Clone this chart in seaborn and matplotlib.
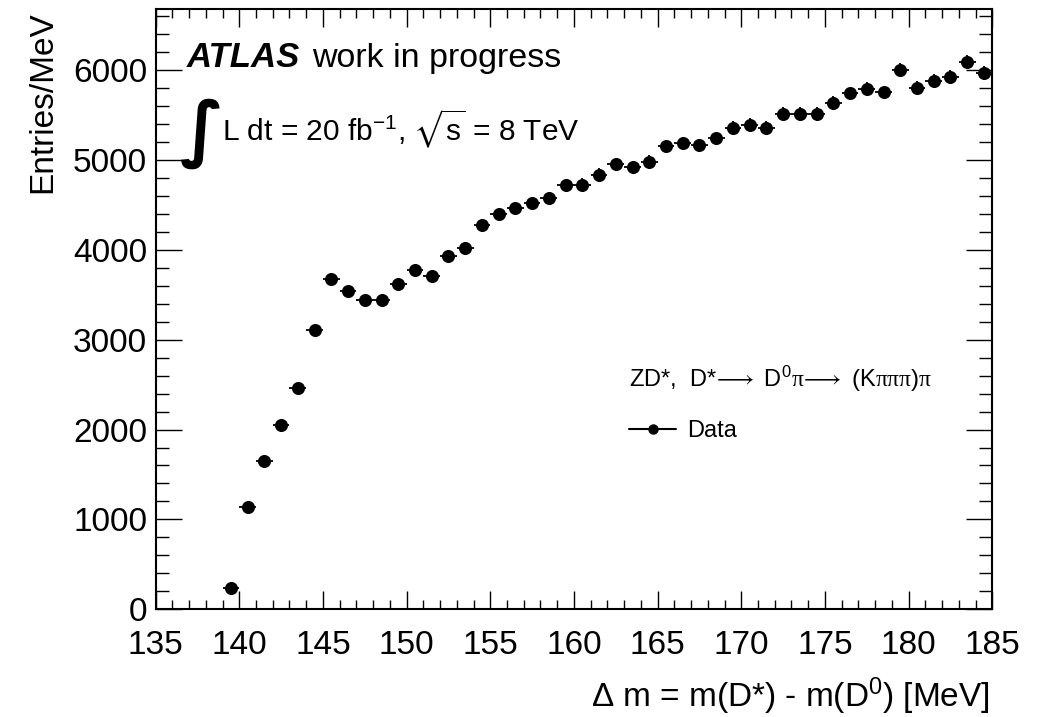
import numpy as np
import pandas as pd
import matplotlib
matplotlib.use("Agg")
import matplotlib.pyplot as plt
from matplotlib.lines import Line2D
from matplotlib.ticker import MultipleLocator
import seaborn as sns

# ---- data ----
bin_centers = [139.5, 140.5, 141.5, 142.5, 143.5, 144.5, 145.5, 146.5, 147.5, 148.5,
               149.5, 150.5, 151.5, 152.5, 153.5, 154.5, 155.5, 156.5, 157.5, 158.5,
               159.5, 160.5, 161.5, 162.5, 163.5, 164.5, 165.5, 166.5, 167.5, 168.5,
               169.5, 170.5, 171.5, 172.5, 173.5, 174.5, 175.5, 176.5, 177.5, 178.5,
               179.5, 180.5, 181.5, 182.5, 183.5, 184.5]
entries = [240, 1140, 1645, 2045, 2465, 3110, 3680, 3540, 3445, 3445,
           3620, 3775, 3705, 3935, 4020, 4280, 4395, 4460, 4515, 4580,
           4715, 4725, 4835, 4950, 4920, 4980, 5150, 5185, 5160, 5240,
           5355, 5390, 5360, 5510, 5510, 5510, 5630, 5740, 5790, 5750,
           6000, 5805, 5880, 5920, 6085, 5965]
bin_half_width = 0.5

x_label = "Δ m = m(D*) - m(D$^{0}$) [MeV]"
y_label = "Entries/MeV"
legend_header = ("ZD*,  D*$\\!\\longrightarrow$ D$^{0}\\mathsf{\\pi}"
                 "\\!\\longrightarrow$ (K$\\mathsf{\\pi\\pi\\pi}$)$\\mathsf{\\pi}$")
legend_entry = "Data"

df = pd.DataFrame({"dm": bin_centers, "n": entries})

# ---- style ----
sns.set_theme(style="ticks")
plt.rcParams["font.family"] = ["Liberation Sans", "DejaVu Sans"]
plt.rcParams["text.color"] = "black"
plt.rcParams["axes.labelcolor"] = "black"
plt.rcParams["xtick.color"] = "black"
plt.rcParams["ytick.color"] = "black"
plt.rcParams["xtick.labelcolor"] = "black"
plt.rcParams["ytick.labelcolor"] = "black"
plt.rcParams["axes.edgecolor"] = "black"
plt.rcParams["mathtext.fontset"] = "custom"
plt.rcParams["mathtext.rm"] = "Liberation Sans"
plt.rcParams["mathtext.it"] = "Liberation Sans:italic"
plt.rcParams["mathtext.bf"] = "Liberation Sans:bold"
plt.rcParams["mathtext.sf"] = "Liberation Serif"
plt.rcParams["mathtext.fallback"] = "stix"

fig = plt.figure(figsize=(10.4, 7.17), dpi=100)
ax = fig.add_axes([155.6 / 1040, 1 - 609.3 / 717, 836.7 / 1040, 600.0 / 717])

# error bars (x: bin width, y: Poisson)
ax.errorbar(df["dm"], df["n"], xerr=bin_half_width, yerr=np.sqrt(df["n"]),
            fmt="none", ecolor="black", elinewidth=1.3, capsize=0, zorder=2)
sns.scatterplot(data=df, x="dm", y="n", ax=ax, color="black", marker="o",
                s=9.4 ** 2, linewidth=0, zorder=3, legend=False)

ax.set_xlim(135, 185)
ax.set_ylim(0, 6675)
ax.xaxis.set_major_locator(MultipleLocator(5))
ax.xaxis.set_minor_locator(MultipleLocator(1))
ax.yaxis.set_major_locator(MultipleLocator(1000))
ax.yaxis.set_minor_locator(MultipleLocator(200))

for sp in ax.spines.values():
    sp.set_visible(True)
    sp.set_linewidth(1.5)
    sp.set_color("black")

ax.tick_params(axis="both", which="both", direction="in", top=True, right=True,
               color="black", labelcolor="black", width=1.0)
ax.tick_params(axis="x", which="major", length=13, pad=15, labelsize=24)
ax.tick_params(axis="x", which="minor", length=6.5)
ax.tick_params(axis="y", which="major", length=18.5, pad=6, labelsize=24)
ax.tick_params(axis="y", which="minor", length=9.3)

ax.set_xlabel(x_label, fontsize=24, loc="right", color="black")
ax.set_ylabel(y_label, fontsize=24, loc="top", color="black")
ax.xaxis.set_label_coords(0.997, -0.111)
ax.yaxis.set_label_coords(-0.116, 0.997)

# ATLAS label
fig.text(186.7 / 1040, 1 - 66.7 / 717, "ATLAS", fontsize=25, fontweight="bold",
         fontstyle="italic", va="baseline", ha="left")
fig.text(312 / 1040, 1 - 66.7 / 717, "work in progress", fontsize=24.5,
         va="baseline", ha="left")
fig.text(180 / 1040, 1 - 134 / 717, "∫", fontsize=52, family=["DejaVu Sans"],
         fontweight="bold", va="center", ha="left")
fig.text(221.7 / 1040, 1 - 141 / 717,
         "L dt = 20 fb$^{\\mathrm{-1}}$, $\\sqrt{\\mathrm{s}}$ = 8 TeV",
         fontsize=21.5, va="baseline", ha="left")

# legend
fig.text(629 / 1040, 1 - 387.3 / 717, legend_header, fontsize=17,
         va="baseline", ha="left")
handle = Line2D([], [], color="black", marker="o", markersize=6.5, linewidth=1.5)
leg = ax.legend([handle], [legend_entry], loc="center left",
                bbox_to_anchor=(629 / 1040, 1 - 431 / 717),
                bbox_transform=fig.transFigure, frameon=False, fontsize=17,
                handlelength=2.0, handletextpad=0.45, borderpad=0,
                borderaxespad=0)
for t in leg.get_texts():
    t.set_color("black")

fig.savefig("out.png", dpi=100)
